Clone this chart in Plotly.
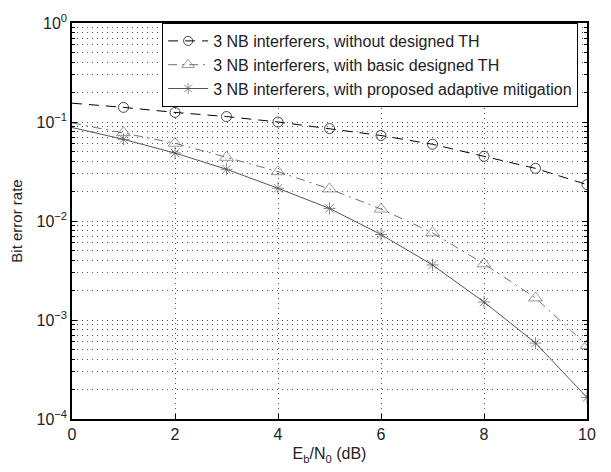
import plotly.graph_objects as go

x_vals = [0, 1, 2, 3, 4, 5, 6, 7, 8, 9, 10]
ber_without = [0.155, 0.1405, 0.125, 0.1135, 0.100, 0.0858, 0.073, 0.0596, 0.045, 0.034, 0.0233]
ber_basic = [0.098, 0.078, 0.061, 0.044, 0.0315, 0.0211, 0.0132, 0.0076, 0.00369, 0.00167, 0.000554]
ber_adaptive = [0.088, 0.0668, 0.0486, 0.0333, 0.0214, 0.0134, 0.0073, 0.0036, 0.00152, 0.000585, 0.000165]
names = [
    "3 NB interferers, without designed TH",
    "3 NB interferers, with basic designed TH",
    "3 NB interferers, with proposed adaptive mitigation",
]
y_tickvals = [1e-4, 1e-3, 1e-2, 1e-1, 1e0]
y_ticktext = ["10<sup>−4</sup>", "10<sup>−3</sup>", "10<sup>−2</sup>", "10<sup>−1</sup>", "10<sup>0</sup>"]
x_tickvals = [0, 2, 4, 6, 8, 10]

FONT = "Liberation Sans, Arial, sans-serif"
TXT = "#222222"
GRID_DASH = "1px,4px"
GRID_COLOR = "#555555"

fig = go.Figure()
fig.add_trace(go.Scatter(
    x=x_vals, y=ber_without, name=names[0], mode="lines+markers",
    line=dict(color="black", width=1, dash="10px,7px"),
    marker=dict(symbol="circle-open", size=[0] + [10] * 10, color="black", line=dict(width=1, color="black")),
))
fig.add_trace(go.Scatter(
    x=x_vals, y=ber_basic, name=names[1], mode="lines+markers",
    line=dict(color="#707070", width=1, dash="9px,5px,2px,5px"),
    marker=dict(symbol="triangle-up-open", size=[0] + [12] * 10, color="#707070", line=dict(width=1, color="#707070")),
))
fig.add_trace(go.Scatter(
    x=x_vals, y=ber_adaptive, name=names[2], mode="lines+markers",
    line=dict(color="#555555", width=1),
    marker=dict(symbol="asterisk-open", size=[0] + [10] * 10, color="#555555", line=dict(width=1, color="#555555")),
))

axis_common = dict(
    showline=True, linecolor="black", linewidth=1.5, mirror="allticks",
    ticks="inside", ticklen=5, tickcolor="black",
    showgrid=True, gridcolor=GRID_COLOR, griddash=GRID_DASH, gridwidth=1,
    zeroline=False,
    tickfont=dict(size=16, color=TXT, family=FONT),
)

fig.update_xaxes(
    range=[0, 10], tickvals=x_tickvals,
    title=dict(text="E<sub>b</sub>/N<sub>0</sub> (dB)", font=dict(size=16, color=TXT), standoff=6),
    **axis_common,
)
fig.update_yaxes(
    type="log", range=[-4, 0], tickvals=y_tickvals, ticktext=y_ticktext,
    title=dict(text="Bit error rate", font=dict(size=15, color=TXT), standoff=10),
    minor=dict(ticks="inside", ticklen=3, tickcolor="black", showgrid=True,
               gridcolor=GRID_COLOR, griddash=GRID_DASH, gridwidth=1,
               dtick="D1"),
    **axis_common,
)

fig.update_layout(
    width=611, height=472,
    margin=dict(l=72, r=24, t=17, b=50),
    paper_bgcolor="white", plot_bgcolor="white",
    font=dict(family=FONT, color=TXT),
    legend=dict(
        x=0.175, y=1.0, xanchor="left", yanchor="top",
        bgcolor="white", bordercolor="black", borderwidth=1,
        font=dict(size=16, color=TXT),
        tracegroupgap=0, itemwidth=40,
    ),
    showlegend=True,
)

fig.write_html("out.html")
